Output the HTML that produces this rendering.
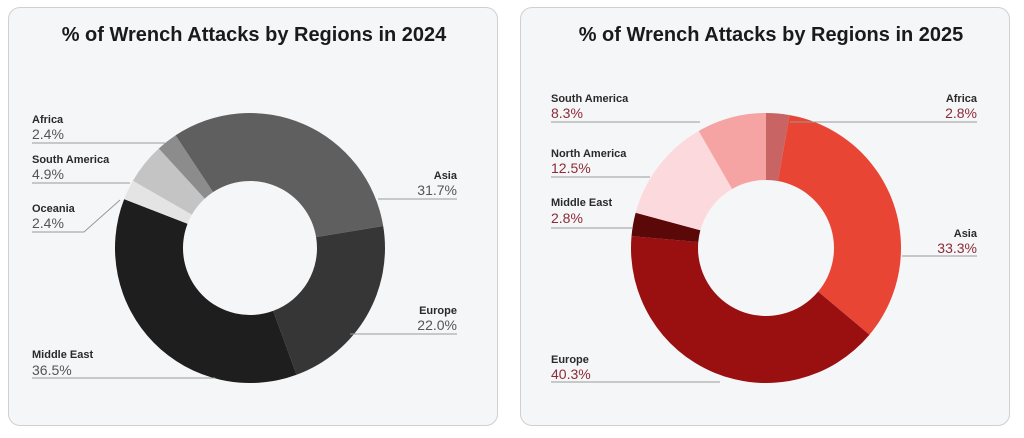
<!DOCTYPE html>
<html><head><meta charset="utf-8">
<style>
html,body{margin:0;padding:0;background:#fff;width:1024px;height:438px;overflow:hidden;font-family:"Liberation Sans",sans-serif}
.card{position:absolute;top:7px;width:490px;height:419px;background:#f5f6f8;border:1px solid #cfd0d3;border-radius:12px;box-sizing:border-box}
svg{position:absolute;left:0;top:0}
</style></head><body>
<div class="card" style="left:8px"></div>
<div class="card" style="left:520px"></div>
<svg id="s" width="1024" height="438" xmlns="http://www.w3.org/2000/svg" font-family="Liberation Sans, sans-serif">
<text x="254" y="41" text-anchor="middle" font-size="20" font-weight="bold" fill="#1a1a1a">% of Wrench Attacks by Regions in 2024</text>
<text x="771" y="41" text-anchor="middle" font-size="20" font-weight="bold" fill="#1a1a1a">% of Wrench Attacks by Regions in 2025</text>
<g id="d"></g>
<g stroke="#999" stroke-width="1" fill="none">
<path d="M32 143H165"/><path d="M32 183H130"/><path d="M32 232H84L120 200"/><path d="M32 378H215"/>
<path d="M378 199H457"/><path d="M350 334H457"/>
<path d="M551 122H700"/><path d="M790 122H977"/><path d="M551 177H650"/><path d="M551 228H632"/>
<path d="M902 256H977"/><path d="M551 382H720"/>
</g>
<g font-size="11" font-weight="bold" fill="#2a2a2a">
<text x="32" y="123">Africa</text><text x="32" y="163">South America</text><text x="32" y="212">Oceania</text><text x="32" y="358">Middle East</text>
<text x="457" y="179" text-anchor="end">Asia</text><text x="457" y="314" text-anchor="end">Europe</text>
<text x="551" y="102">South America</text><text x="977" y="102" text-anchor="end">Africa</text><text x="551" y="157">North America</text><text x="551" y="206">Middle East</text>
<text x="977" y="237" text-anchor="end">Asia</text><text x="551" y="363">Europe</text>
</g>
<g font-size="14" fill="#555">
<text x="32" y="139">2.4%</text><text x="32" y="179">4.9%</text><text x="32" y="228">2.4%</text><text x="32" y="375">36.5%</text>
<text x="457" y="195" text-anchor="end">31.7%</text><text x="457" y="330" text-anchor="end">22.0%</text>
</g>
<g font-size="14" fill="#8e2a35">
<text x="551" y="118">8.3%</text><text x="977" y="118" text-anchor="end">2.8%</text><text x="551" y="173">12.5%</text><text x="551" y="223">2.8%</text>
<text x="977" y="253" text-anchor="end">33.3%</text><text x="551" y="379">40.3%</text>
</g>
</svg>
<script>
function donut(cx,cy,R,r,start,data){
 var g=document.getElementById('d'),a=start,out='';
 data.forEach(function(d){
  var b=a+d[0]*3.6;
  function p(rad,ang){var t=(ang-90)*Math.PI/180;return (cx+rad*Math.cos(t)).toFixed(2)+' '+(cy+rad*Math.sin(t)).toFixed(2);}
  var l=(b-a)>180?1:0;
  out+='<path fill="'+d[1]+'" d="M'+p(R,a)+' A'+R+' '+R+' 0 '+l+' 1 '+p(R,b)+' L'+p(r,b)+' A'+r+' '+r+' 0 '+l+' 0 '+p(r,a)+' Z"/>';
  a=b;
 });
 g.innerHTML+=out;
}
donut(250,248,135,67,-33.5,[[31.7,'#5f5f5f'],[22.0,'#363636'],[36.5,'#1e1e1e'],[2.4,'#e4e4e4'],[4.9,'#c4c4c4'],[2.5,'#8c8c8c']]);
donut(766,248,135,68,0,[[2.8,'#c86464'],[33.3,'#e84535'],[40.3,'#9a0f10'],[2.8,'#5a0808'],[12.5,'#fcd9dc'],[8.3,'#f5a3a3']]);
</script>
</body></html>
